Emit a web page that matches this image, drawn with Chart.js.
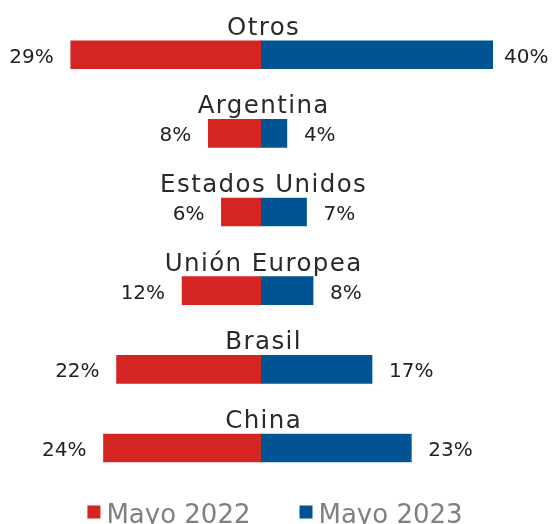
<!DOCTYPE html>
<html>
<head>
<meta charset="utf-8">
<script src="https://cdn.jsdelivr.net/npm/chart.js@4.4.1/dist/chart.umd.min.js"></script>
<style>
  html, body { margin: 0; padding: 0; background: #ffffff; overflow: hidden; }
  #wrap { position: relative; width: 554px; height: 524px; }
  canvas { display: block; }
</style>
</head>
<body>
<div id="wrap"><canvas id="c" width="554" height="524" style="width:554px;height:524px"></canvas></div>
<script>
// ---- Data ----
const categories = ['Otros', 'Argentina', 'Estados Unidos', 'Unión Europea', 'Brasil', 'China'];
const values2022 = [29, 8, 6, 12, 22, 24];
const values2023 = [40, 4, 7, 8, 17, 23];
const seriesNames = ['Mayo 2022', 'Mayo 2023'];

// ---- Styles ----
const seriesColors = ['#D42522', '#015494'];
const FONT = '"DejaVu Sans", "Liberation Sans", sans-serif';
const xMin = -39.8, xMax = 35.47;

const labelPlugin = {
  id: 'customLabels',
  afterDatasetsDraw(chart) {
    const ctx = chart.ctx;
    const xs = chart.scales.x, ys = chart.scales.y, area = chart.chartArea;
    const zero = xs.getPixelForValue(0);
    const metaL = chart.getDatasetMeta(0), metaR = chart.getDatasetMeta(1);
    ctx.save();
    categories.forEach((cat, i) => {
      const yc = ys.getPixelForValue(i);
      // category name above bar
      ctx.font = '24.5px ' + FONT;
      ctx.letterSpacing = '1.4px';
      ctx.fillStyle = '#2a2a2a';
      ctx.textAlign = 'center';
      ctx.textBaseline = 'alphabetic';
      ctx.fillText(cat, zero + 3, yc - 20);
      // value labels
      ctx.font = '20px ' + FONT;
      ctx.letterSpacing = '0px';
      ctx.fillStyle = '#222222';
      const barL = metaL.data[i], barR = metaR.data[i];
      ctx.textAlign = 'right';
      const lx = Math.max(barL.x, area.left);
      ctx.fillText(values2022[i] + '%', lx - 17, yc + 8);
      ctx.textAlign = 'left';
      const rx = barR.x > area.right ? area.right + 11 : barR.x + 17;
      ctx.fillText(values2023[i] + '%', rx, yc + 8);
    });
    ctx.restore();
  },
  afterDraw(chart) {
    const ctx = chart.ctx;
    ctx.save();
    ctx.font = '26px ' + FONT;
    ctx.letterSpacing = '0px';
    const box = 13, gapBox = 6, gapItem = 49;
    const widths = seriesNames.map(n => ctx.measureText(n).width);
    const total = widths.reduce((a, w) => a + box + gapBox + w, 0) + gapItem * (seriesNames.length - 1);
    let x = (chart.width - total) / 2 - 2;
    ctx.textAlign = 'left';
    ctx.textBaseline = 'alphabetic';
    seriesNames.forEach((n, k) => {
      ctx.fillStyle = chart.data.datasets[k].backgroundColor;
      ctx.fillRect(x, 505.5, box, box);
      ctx.fillStyle = '#808080';
      ctx.fillText(n, x + box + gapBox, 522.5);
      x += box + gapBox + widths[k] + gapItem;
    });
    ctx.restore();
  }
};

new Chart(document.getElementById('c'), {
  type: 'bar',
  data: {
    labels: categories,
    datasets: [
      { label: seriesNames[0], data: values2022.map(v => -v), backgroundColor: seriesColors[0], barThickness: 28 },
      { label: seriesNames[1], data: values2023.slice(), backgroundColor: seriesColors[1], barThickness: 28 }
    ]
  },
  options: {
    indexAxis: 'y',
    responsive: false,
    maintainAspectRatio: false,
    animation: false,
    devicePixelRatio: 1,
    layout: { padding: { left: 0, right: 61, top: 15.4, bottom: 36.7 } },
    scales: {
      x: { type: 'linear', min: xMin, max: xMax, stacked: true, display: false },
      y: { type: 'category', stacked: true, display: false }
    },
    plugins: {
      legend: { display: false },
      tooltip: { enabled: false }
    }
  },
  plugins: [labelPlugin]
});
</script>
</body>
</html>
